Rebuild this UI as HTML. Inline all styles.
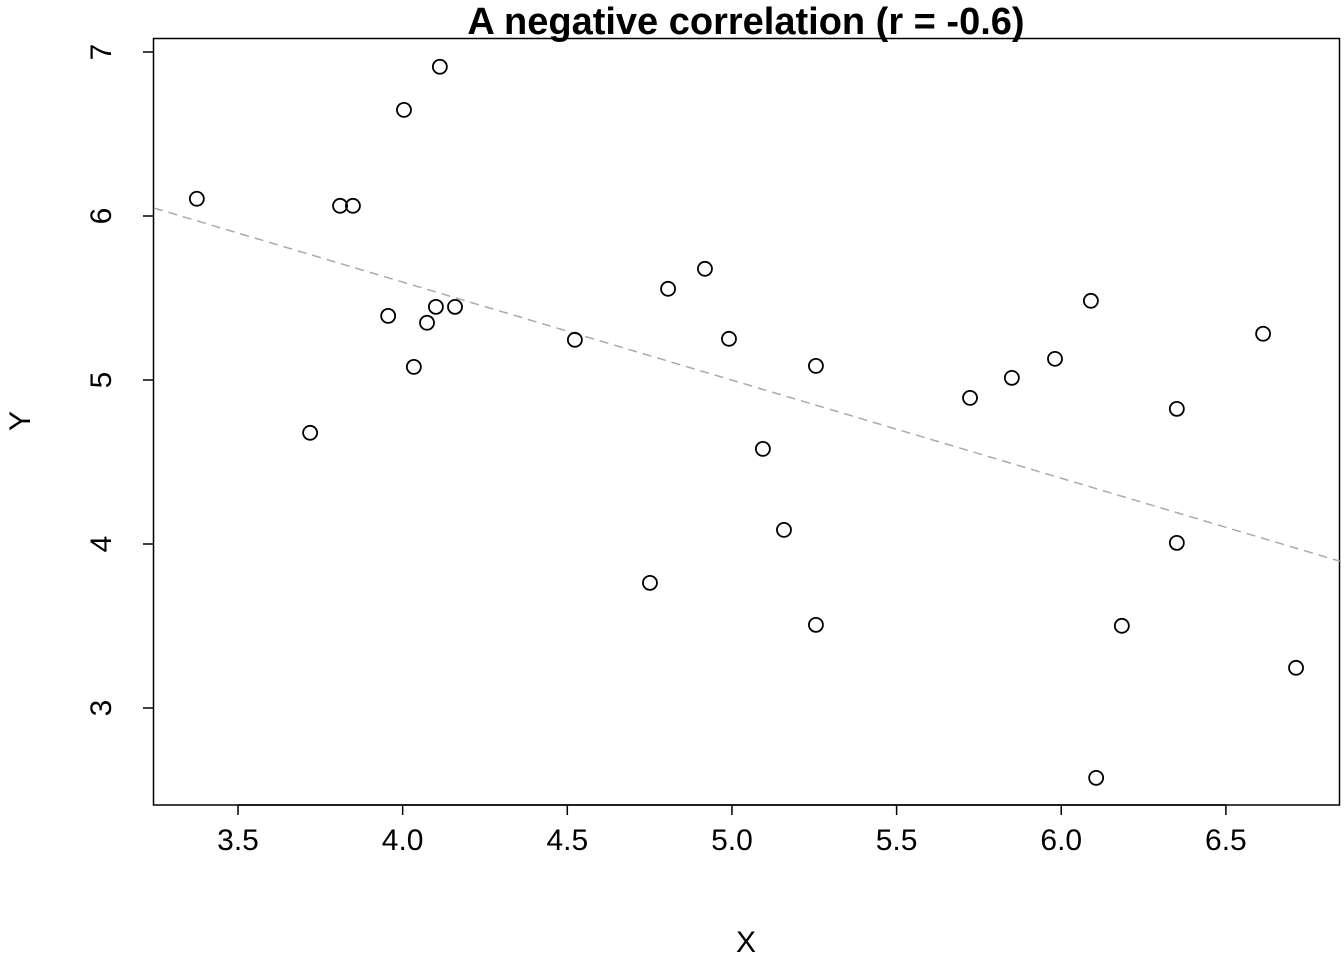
<!DOCTYPE html>
<html><head><meta charset="utf-8"><style>
html,body{margin:0;padding:0;background:#fff;}
svg{display:block;font-family:"Liberation Sans",Arial,sans-serif;}
</style></head><body>
<svg id="chart" width="1344" height="960">
<text x="746" y="34" text-anchor="middle" font-size="38" font-weight="bold">A negative correlation (r = -0.6)</text>
<rect x="153.5" y="38.5" width="1186" height="766.5" fill="none" stroke="#000" stroke-width="1.5"/>
<g id="xaxis"></g>
<g id="yaxis"></g>
<g id="fit"></g>
<g id="pts"></g>
<text x="746" y="952" text-anchor="middle" font-size="30">X</text>
<text transform="translate(30,421) rotate(-90)" text-anchor="middle" font-size="30">Y</text>
</svg>
<script>
const xs = [3.375,3.719,3.810,3.849,3.956,4.004,4.034,4.074,4.101,4.113,4.159,4.523,4.751,4.806,4.918,4.991,5.094,5.158,5.255,5.255,5.723,5.850,5.981,6.090,6.106,6.184,6.351,6.351,6.613,6.713];
const ys = [6.105,4.678,6.062,6.062,5.391,6.647,5.080,5.349,5.446,6.910,5.446,5.245,3.763,5.556,5.678,5.251,4.580,4.086,5.086,3.507,4.891,5.013,5.129,5.483,2.574,3.501,4.824,4.007,5.282,3.245];
const xTicks = [3.5,4.0,4.5,5.0,5.5,6.0,6.5];
const xTickLabels = ["3.5","4.0","4.5","5.0","5.5","6.0","6.5"];
const yTicks = [3,4,5,6,7];
const yTickLabels = ["3","4","5","6","7"];
const fitIntercept = 7.989;
const fitSlope = -0.598;
const xDomain = [3.245, 6.846];

const NS="http://www.w3.org/2000/svg";
function sx(v){return 238 + (v-3.5)*329.3;}
function sy(v){return 52 + (7-v)*164;}
function mk(tag,attrs,parent){const e=document.createElementNS(NS,tag);for(const k in attrs)e.setAttribute(k,attrs[k]);parent.appendChild(e);return e;}

const xa=document.getElementById('xaxis');
mk('line',{x1:sx(xTicks[0]),x2:sx(xTicks[xTicks.length-1]),y1:805,y2:805,stroke:'#000','stroke-width':1.5},xa);
xTicks.forEach((t,i)=>{
  const l=mk('line',{x1:sx(t),x2:sx(t),y1:805,y2:815,stroke:'#000','stroke-width':1.5},xa);
  
  
  const tx=mk('text',{x:sx(t),y:850,'text-anchor':'middle','font-size':30},xa);
  tx.textContent=xTickLabels[i];
  
  
});
const ya=document.getElementById('yaxis');
yTicks.forEach((t,i)=>{
  const l=mk('line',{x1:143,x2:153.5,y1:sy(t),y2:sy(t),stroke:'#000','stroke-width':1.5},ya);
  
  
  const tx=mk('text',{transform:`translate(111,${sy(t)}) rotate(-90)`,'text-anchor':'middle','font-size':30},ya);
  tx.textContent=yTickLabels[i];
  
  
});
const fg=document.getElementById('fit');
const fl=mk('line',{x1:sx(xDomain[0]),y1:sy(fitIntercept+fitSlope*xDomain[0]),x2:sx(xDomain[1]),y2:sy(fitIntercept+fitSlope*xDomain[1]),stroke:'#aaa','stroke-width':1.5,'stroke-dasharray':'9,6'},fg);


const pg=document.getElementById('pts');
xs.forEach((x,i)=>{
  const c=mk('circle',{cx:sx(x),cy:sy(ys[i]),r:7,fill:'none',stroke:'#000','stroke-width':1.8},pg);
  
  
});
</script>
</body></html>
